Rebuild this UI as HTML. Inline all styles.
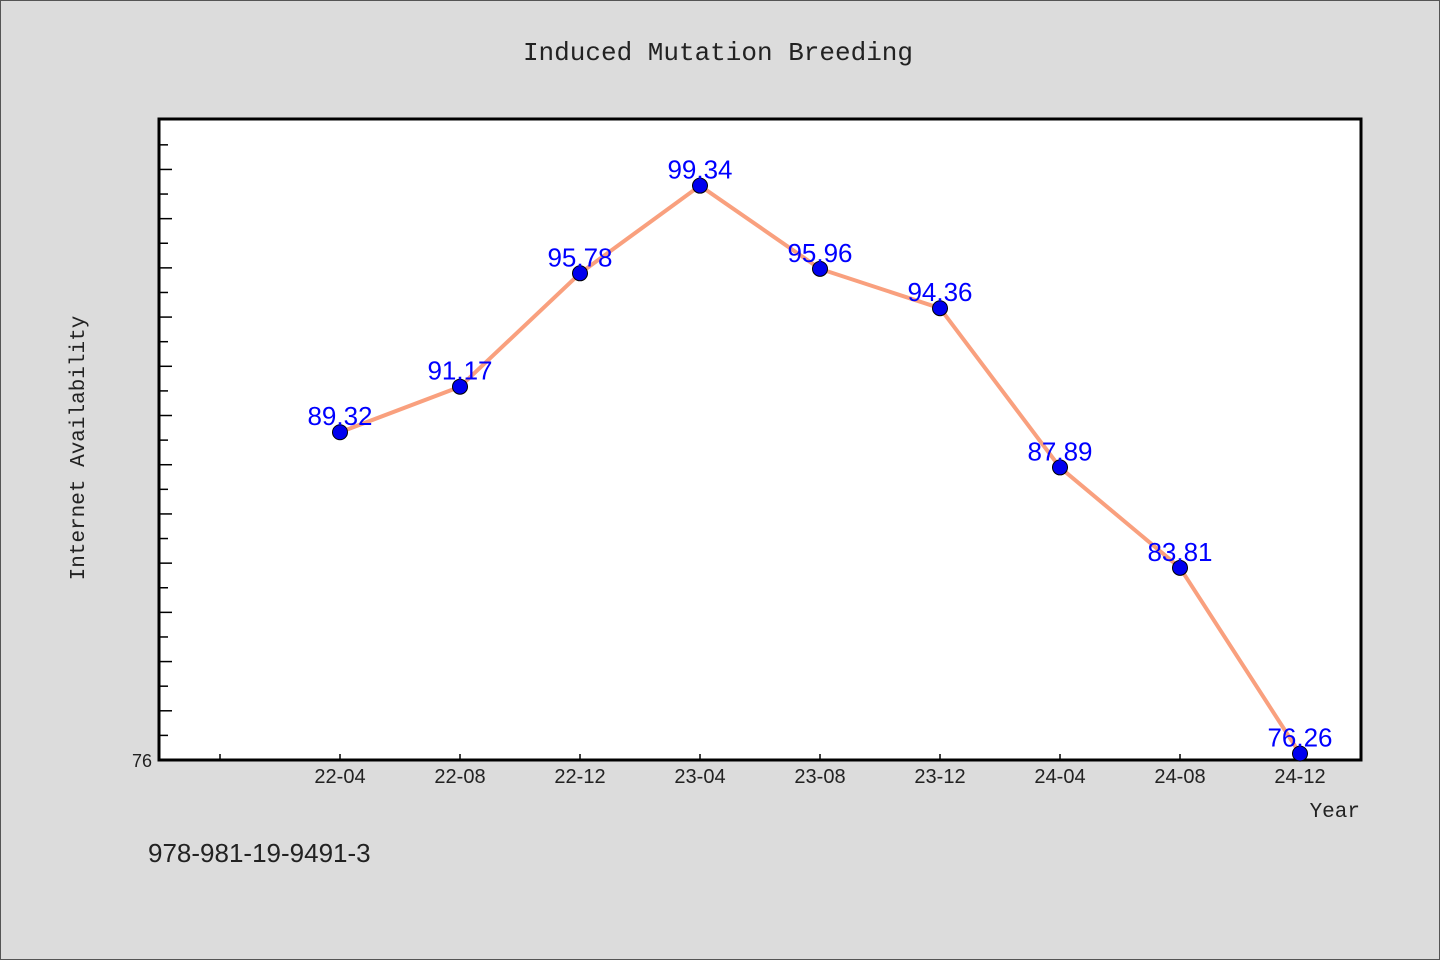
<!DOCTYPE html>
<html><head><meta charset="utf-8"><style>
html,body{margin:0;padding:0;background:#dcdcdc;}
svg{display:block;}
</style></head><body>
<svg width="1440" height="960" xmlns="http://www.w3.org/2000/svg">
<rect x="0.5" y="0.5" width="1439" height="959" fill="#dcdcdc" stroke="#555"/>
<text x="718" y="60" text-anchor="middle" font-family="'Liberation Mono',monospace" font-size="26" fill="#222">Induced Mutation Breeding</text>
<rect x="159" y="119" width="1202" height="641" fill="#fff"/>
<g id="yticks"></g><g id="xticks"></g>
<rect x="159" y="119" width="1202" height="641" fill="none" stroke="#000" stroke-width="3"/>
<text x="152" y="767" text-anchor="end" font-family="'Liberation Sans',sans-serif" font-size="18" fill="#222">76</text>
<text transform="translate(84,448) rotate(-90)" text-anchor="middle" font-family="'Liberation Mono',monospace" font-size="21" fill="#222">Internet Availability</text>
<text x="1360" y="817" text-anchor="end" font-family="'Liberation Mono',monospace" font-size="21" fill="#222">Year</text>
<text x="148" y="862" font-family="'Liberation Sans',sans-serif" font-size="26" fill="#222">978-981-19-9491-3</text>
<g id="series"></g>
</svg>
<script>
const categories=["22-04","22-08","22-12","23-04","23-08","23-12","24-04","24-08","24-12"];
const values=[89.32,91.17,95.78,99.34,95.96,94.36,87.89,83.81,76.26];
const yMin=76,yMax=102.05;
const NS="http://www.w3.org/2000/svg";
function y(v){return 760-(v-yMin)/(yMax-yMin)*641;}
function x(i){return 340+120*i;}
function mk(t,a,p){const e=document.createElementNS(NS,t);for(const k in a)e.setAttribute(k,a[k]);p.appendChild(e);return e;}
const yt=document.getElementById('yticks');
for(let v=77;v<=101;v++){
 const l=mk('line',{x1:159,x2:159+(v%2===0?13:9),y1:y(v),y2:y(v),stroke:'#000','stroke-width':1.5},yt);
 
 
}
const xt=document.getElementById('xticks');
for(let i=-1;i<categories.length;i++){
 const l=mk('line',{x1:x(i),x2:x(i),y1:760,y2:754,stroke:'#000','stroke-width':1.5},xt);
 
 
 if(i>=0){
  const t=mk('text',{x:x(i),y:783,'text-anchor':'middle','font-family':"'Liberation Sans',sans-serif",'font-size':20,fill:'#222'},xt);
  t.textContent=categories[i];
  
  
 }
}
const s=document.getElementById('series');
const line=mk('polyline',{points:values.map((v,i)=>x(i)+','+y(v)).join(' '),fill:'none',stroke:'#f9a07e','stroke-width':4},s);


values.forEach((v,i)=>{
 const c=mk('circle',{cx:x(i),cy:y(v),r:7.5,fill:'#0000ee',stroke:'#000','stroke-width':1},s);
 
 
 const t=mk('text',{x:x(i),y:y(v)-7,'text-anchor':'middle','font-family':"'Liberation Sans',sans-serif",'font-size':26,fill:'#0000ff'},s);
 t.textContent=v.toFixed(2);
 
 
});
</script>
</body></html>
